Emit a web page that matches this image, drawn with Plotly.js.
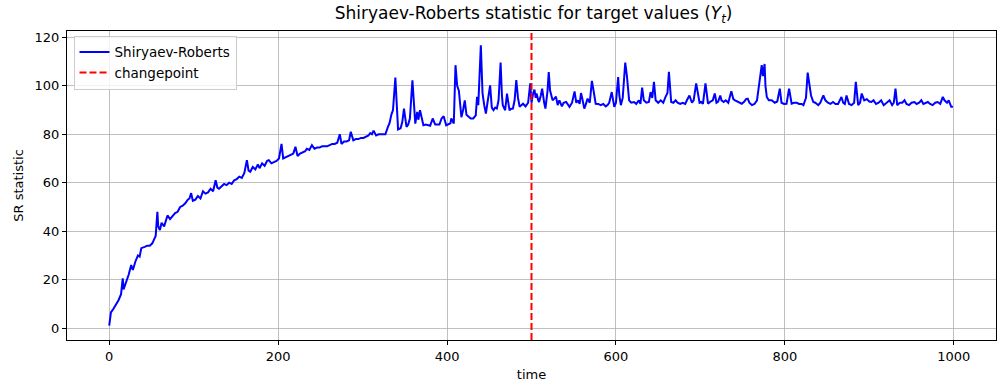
<!DOCTYPE html>
<html>
<head>
<meta charset="utf-8">
<script src="https://cdn.plot.ly/plotly-3.0.1.min.js"></script>
<style>
  html, body { margin: 0; padding: 0; background: #fff; }
  #chart { width: 1003px; height: 384px; }
</style>
</head>
<body>
<div id="chart"></div>
<script>
// values (time step, SR statistic)
const timeSteps = [
  0, 1, 2, 5, 8, 11, 14, 16, 17, 20, 23, 26, 28, 31, 34, 36, 38, 42, 45, 48, 51, 53, 55, 57, 58, 60,
  62, 65, 67, 69, 72, 75, 78, 81, 84, 87, 90, 93, 95, 97, 99, 102, 105, 108, 111, 114, 117, 120, 123, 126, 128, 130,
  133, 136, 139, 142, 145, 148, 151, 154, 157, 160, 163, 165, 167, 170, 173, 176, 178, 181, 184, 187, 189, 192, 195, 198,
  201, 204, 206, 209, 212, 215, 218, 220.5, 223, 226, 229, 232, 234, 237, 240, 243, 246, 249, 252, 255, 258, 261, 264, 267, 270, 273, 275,
  278, 281, 284, 286, 289, 292, 295, 298, 301, 304, 307, 309, 311, 313, 316, 319, 322, 325, 327, 330, 332, 334, 336, 338.8, 340, 342, 345,
  347, 349, 352, 354, 356, 359, 361, 362.4, 364.7, 366, 368, 370, 372, 375, 378, 380, 383, 386, 389, 391, 393.5, 396, 399, 401, 404, 405, 408,
  410, 412, 414, 416, 417, 419, 421, 423, 426, 428, 431, 434, 435.5, 437, 440, 442, 444, 446, 448, 451, 453, 455, 457, 459, 461, 463.4, 465,
  466, 468.8, 471, 473, 474, 476, 478, 480, 482, 484, 486, 488, 490, 493, 496, 498.5, 500, 502, 503.5, 505, 506, 508, 509, 511, 512.6, 515,
  516.5, 519, 520.4, 522, 523, 525, 527, 529, 531,
  533, 536, 538, 541, 543, 545, 548, 551, 553, 555, 557, 558.6, 560, 562.5, 564, 566.4, 569, 571.5, 573, 574, 576, 579, 582, 585, 588, 590,
  592, 595, 598, 600, 602.6, 604, 605.8, 608, 611, 613, 615.6, 618, 621.5, 624, 627, 629, 631, 633, 636, 639, 641, 643, 645, 647, 650, 653,
  656, 658.7, 661, 662.7, 664, 665.4, 668, 670.6, 673, 676, 679, 682, 684, 687, 690,
  692, 695, 697, 699, 701, 703, 706, 708, 709, 712, 714.6, 717, 719, 721, 723.5, 725, 727.6, 730, 733, 736.6, 739, 741, 744, 747, 749, 752,
  754, 756, 758, 761, 764, 767, 769, 771, 772.6, 774, 776, 777, 778.6, 781, 784.5, 788, 791, 794, 796, 799, 802, 805, 807, 808, 811, 814,
  817, 820, 822, 825, 827, 829.7, 831, 833.7, 836, 839.6, 842, 845.6, 848, 851, 854, 857, 860, 863, 867, 869, 871, 873, 876, 879, 882, 884,
  886.8, 889, 891, 894, 897, 900, 902.5, 905, 908, 911, 914, 917, 920, 922, 924, 927, 929, 931, 933, 936, 939, 941.7, 944, 947, 950, 953.5,
  956, 959, 961.6, 964, 967, 969.3, 972, 975, 978, 981, 984, 987, 989, 992, 994, 997, 999
];
const srValues = [
  1, 5.5, 6.5, 8, 9.5, 11.5, 14, 20.5, 16, 19, 22, 26, 24, 27.5, 30, 29.5, 33, 33.5, 34, 34, 35, 36.5, 38, 48, 42, 40.5,
  43.5, 42, 44.5, 46.5, 45, 46.5, 47.5, 48, 50, 50.5, 51.5, 53, 53.5, 55.7, 52.5, 53, 54.5, 53.5, 56.5, 55.5, 56, 57.5, 56.5, 61, 58, 57.5,
  58.5, 59.5, 59, 60, 59.5, 61, 61.5, 62.5, 62, 64, 69.3, 65, 64.5, 66.5, 65.5, 67.5, 66, 68, 67, 69, 69.3, 68, 68.5, 69,
  70, 76, 70, 70.5, 71, 71.5, 72, 74.8, 71, 72, 72.5, 73, 74, 73.5, 75.5, 74, 74.5, 74.5, 75, 75, 75, 75.5, 76, 76, 76.5, 80, 76,
  77, 77, 77.5, 81, 77.5, 78, 78, 78.5, 78.5, 79, 79.5, 80.5, 80, 81.5, 79.5, 80, 80, 80, 80, 83, 84.7, 88, 90, 103.4, 95, 82, 82.5,
  85, 90.6, 83, 84, 86.5, 102.3, 90, 84.4, 89.2, 86, 89.9, 86, 83.7, 84, 83.5, 83.5, 86.5, 84, 84, 84, 86.5, 87.4, 83.7, 84, 84.5, 86.5, 84.4,
  108.5, 100, 98, 90, 87, 90, 94, 88, 87, 86.5, 86.5, 87.8, 95.4, 92, 116.7, 97, 92, 88.5, 93.3, 100.2, 91, 89.9, 91, 90.6, 94, 109.6, 96,
  92, 89.9, 96.8, 92, 89.9, 90.5, 90.6, 94, 102.3, 95, 91.3, 92, 92.6, 91.5, 93, 101, 93, 97, 98.4, 95, 96.8, 94, 93.3, 96, 98.8, 93,
  90.6, 98, 105.7, 98, 96.8, 94, 94.7, 95.5, 92,
  94, 91.5, 93, 93.3, 92, 91.3, 93, 97.7, 93, 94, 92.5, 97, 95, 90.6, 92, 94.7, 93, 102, 99, 96.8, 92.6, 92.5, 92, 92.5, 91.5, 92,
  93, 97.4, 91.3, 93, 103.6, 96, 92, 95, 109.6, 104, 94, 93, 93.3, 92.5, 94, 92.5, 99.2, 94, 93, 93.3, 97.4, 95, 101.6, 94, 93, 94,
  93, 95.4, 97, 105.8, 99, 93.3, 93, 94, 93, 92.5, 93, 92.5, 94, 96, 93,
  94, 101, 96, 93, 93.3, 92.5, 101, 95, 92.6, 93.5, 94, 96.8, 93, 93.5, 96, 94, 93.3, 94, 93, 97.7, 94.5, 94, 93.5, 93, 92.6, 93.5,
  94.5, 94.7, 93, 92, 92.5, 94, 98.8, 104, 108.5, 104, 109, 100, 95.4, 94, 94, 93, 93.5, 98.8, 93, 92.5, 92.6, 98.8, 94, 92.6, 93, 93,
  92.5, 92.5, 92, 95, 105.4, 98.8, 96, 93.3, 93, 92, 93, 96, 94, 93, 92.5, 93.3, 92.5, 92.5, 95.4, 93, 92.5, 96, 92.5, 92, 93, 101.6,
  92, 93, 96.8, 94, 94.5, 93.5, 93.3, 94, 92.5, 93, 94, 92, 93, 93.5, 94, 92, 93, 98.8, 92, 93, 93, 94, 92.5, 92, 93, 93.3,
  92.5, 93, 94, 92.5, 93, 93.3, 92.5, 92, 93, 93.3, 92.5, 95.4, 94, 93, 94, 91.3, 91.3
];
const changepoint = 500;
const xTicks = [0, 200, 400, 600, 800, 1000];
const yTicks = [0, 20, 40, 60, 80, 100, 120];

const yRange = [-4.9, 122.6];

const data = [
    {
        x: timeSteps,
        y: srValues,
        type: 'scatter',
        mode: 'lines',
        name: 'Shiryaev-Roberts',
        line: { color: '#0000ff', width: 2 }
    },
    {
        x: [changepoint, changepoint],
        y: yRange,
        type: 'scatter',
        mode: 'lines',
        name: 'changepoint',
        line: { color: '#ff0000', width: 2, dash: '7px,3px' }
    }
];

const axisCommon = {
    showgrid: true,
    gridcolor: '#b0b0b0',
    gridwidth: 0.8,
    zeroline: false,
    showline: true,
    linecolor: '#000',
    linewidth: 1,
    mirror: true,
    ticks: 'outside',
    ticklen: 4,
    tickwidth: 1,
    tickcolor: '#000',
    tickfont: { family: 'DejaVu Sans', size: 13, color: '#000' }
};

const layout = {
    width: 1003,
    height: 384,
    paper_bgcolor: '#fff',
    plot_bgcolor: '#fff',
    font: { family: 'DejaVu Sans', color: '#000' },
    margin: { l: 67, r: 7, t: 31, b: 44 },
    title: {
        text: 'Shiryaev-Roberts statistic for target values (<i>Y<sub>t</sub></i>)',
        font: { family: 'DejaVu Sans', size: 17, color: '#000' },
        x: 0.532, xref: 'container', xanchor: 'center',
        y: 0.965, yref: 'container', yanchor: 'middle'
    },
    xaxis: Object.assign({}, axisCommon, {
        range: [-50, 1050],
        tickvals: xTicks,
        title: { text: 'time', font: { family: 'DejaVu Sans', size: 13, color: '#000' }, standoff: 7 }
    }),
    yaxis: Object.assign({}, axisCommon, {
        range: yRange,
        tickvals: yTicks,
        title: { text: 'SR statistic', font: { family: 'DejaVu Sans', size: 13, color: '#000' }, standoff: 8 }
    }),
    showlegend: true,
    legend: {
        x: 0.007, y: 0.985, xanchor: 'left', yanchor: 'top',
        bgcolor: 'rgba(255,255,255,0.8)',
        bordercolor: '#cccccc',
        borderwidth: 1,
        font: { family: 'DejaVu Sans', size: 13.5, color: '#000' },
        itemwidth: 30
    }
};

Plotly.newPlot('chart', data, layout, { displayModeBar: false, staticPlot: true });
</script>
</body>
</html>
